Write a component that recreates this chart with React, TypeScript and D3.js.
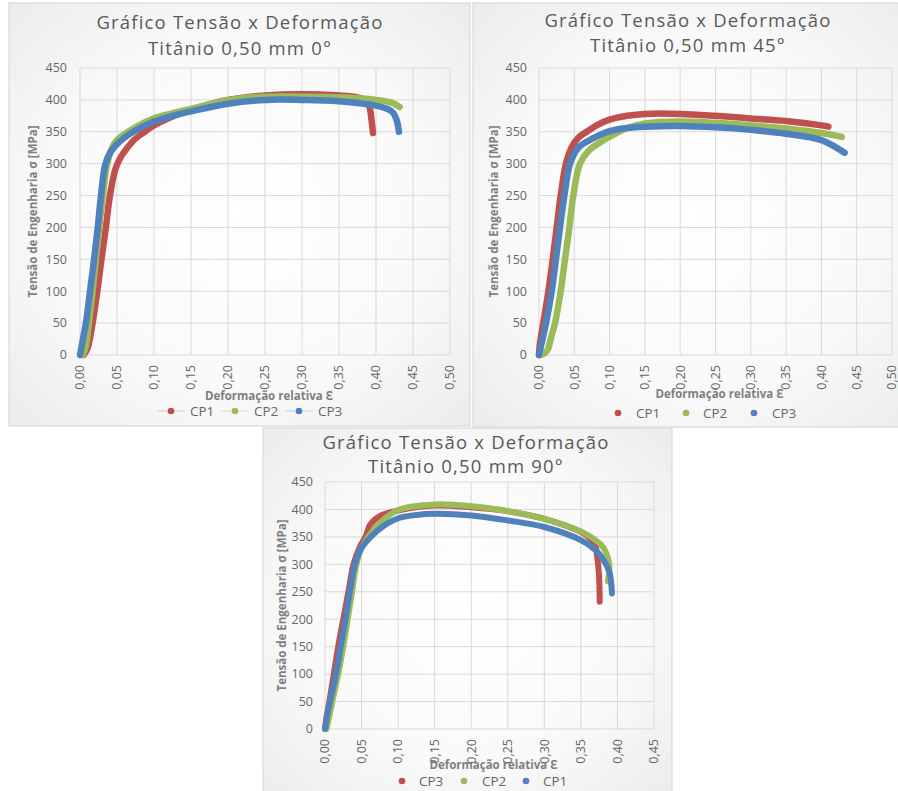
import * as d3 from "d3";

type Pt = [number, number];

// ---- data (strain, stress MPa) ----
const yTicks = [0, 50, 100, 150, 200, 250, 300, 350, 400, 450];
const xTicks050 = [0, 0.05, 0.1, 0.15, 0.2, 0.25, 0.3, 0.35, 0.4, 0.45, 0.5];
const xTicks045 = [0, 0.05, 0.1, 0.15, 0.2, 0.25, 0.3, 0.35, 0.4, 0.45];

const t0CP1: Pt[] = [[0.005,0],[0.01,10],[0.017,50],[0.0234,100],[0.029,150],[0.035,200],[0.0405,250],[0.048,292],[0.055,310],[0.062,322],[0.072,336],[0.085,348],[0.1,360],[0.125,374],[0.15,385],[0.175,393],[0.2,400],[0.25,407],[0.3,409],[0.35,407],[0.375,404],[0.388,398],[0.392,385],[0.394,368],[0.396,348]];
const t0CP2: Pt[] = [[0.004,0],[0.008,15],[0.012,50],[0.017,100],[0.0215,150],[0.026,200],[0.031,250],[0.036,295],[0.043,324],[0.05,337],[0.075,357],[0.1,371],[0.125,379],[0.15,386],[0.175,393],[0.2,400],[0.25,405],[0.3,405],[0.35,404],[0.4,400],[0.42,396],[0.432,389]];
const t0CP3: Pt[] = [[0,0],[0.004,25],[0.008,50],[0.0135,100],[0.019,150],[0.024,200],[0.0284,250],[0.034,298],[0.041,318],[0.054,335],[0.075,352],[0.1,366],[0.125,375],[0.15,382],[0.2,394],[0.25,400],[0.3,400],[0.35,398],[0.4,391],[0.415,386],[0.423,380],[0.428,368],[0.431,350]];

const t45CP1: Pt[] = [[0,0],[0.001,15],[0.003,30],[0.006,50],[0.0133,100],[0.0194,150],[0.025,200],[0.0307,250],[0.0382,300],[0.046,325],[0.055,340],[0.0675,350],[0.085,362],[0.1,369],[0.125,375],[0.15,378],[0.2,378],[0.25,375],[0.3,371],[0.35,367],[0.4,360],[0.41,358]];
const t45CP2: Pt[] = [[0.002,0],[0.008,3],[0.013,10],[0.0165,25],[0.0227,50],[0.0307,100],[0.0368,150],[0.043,200],[0.0486,250],[0.058,300],[0.07,320],[0.089,335],[0.1,342],[0.125,356],[0.15,363],[0.2,366],[0.25,364],[0.3,360],[0.35,355],[0.4,348],[0.429,342]];
const t45CP3: Pt[] = [[0,0],[0.005,25],[0.01,50],[0.018,100],[0.024,150],[0.0297,200],[0.036,250],[0.044,300],[0.0557,325],[0.077,340],[0.1,351],[0.125,356],[0.15,358],[0.2,359],[0.25,357],[0.3,353],[0.35,347],[0.4,337],[0.42,326],[0.433,317]];

const t90CP3: Pt[] = [[0,0],[0.002,20],[0.006,50],[0.012,100],[0.018,150],[0.025,200],[0.032,250],[0.039,300],[0.047,330],[0.056,352],[0.0615,372],[0.075,388],[0.1,398],[0.15,407],[0.2,404],[0.25,397],[0.3,383],[0.35,359],[0.36,350],[0.369,338],[0.372,317],[0.3748,280],[0.3757,232]];
const t90CP2: Pt[] = [[0.002,0],[0.006,25],[0.01,50],[0.018,100],[0.025,150],[0.031,200],[0.037,250],[0.043,300],[0.05,330],[0.059,350],[0.068,365],[0.08,381],[0.1,399],[0.15,409],[0.2,406],[0.25,397],[0.3,383],[0.35,360],[0.37,344],[0.38,332],[0.385,319],[0.389,298],[0.387,269]];
const t90CP1: Pt[] = [[0,0],[0.003,25],[0.0068,50],[0.015,100],[0.0214,150],[0.028,200],[0.034,250],[0.041,300],[0.05,330],[0.064,352],[0.08,370],[0.1,384],[0.125,390],[0.15,392],[0.2,389],[0.25,380],[0.3,368],[0.35,344],[0.369,327],[0.38,310],[0.389,286],[0.3925,247]];

const RED = "#c0504d";
const GREEN = "#9bbb59";
const BLUE = "#4f81bd";
const FONT = "'Open Sans', 'Noto Sans', sans-serif";
const fmtX = (v: number) => d3.format(".2f")(v).replace(".", ",");

type Series = { name: string; color: string; data: Pt[] };
type Cfg = {
  id: string;
  frame: [number, number, number, number];
  plot: { left: number; right: number; top: number; bottom: number };
  xMax: number;
  xTicks: number[];
  title2: string;
  titleX: number;
  titleY: [number, number];
  yTitleX: number;
  xTitleY: number;
  tickRight: number;
  legendY: number;
  legend: [number, number][];
  legendLines: boolean;
  lineWidth: number;
  series: Series[];
};

function Panel({ cfg }: { cfg: Cfg }) {
  const { plot } = cfg;
  const x = d3.scaleLinear().domain([0, cfg.xMax]).range([plot.left, plot.right]);
  const y = d3.scaleLinear().domain([0, 450]).range([plot.bottom, plot.top]);
  const line = d3
    .line<Pt>()
    .x((d) => x(d[0]))
    .y((d) => y(d[1]))
    .curve(d3.curveCatmullRom.alpha(0.5));
  const [fx, fy, fw, fh] = cfg.frame;
  const titleStyle = { fontSize: 18.5, fill: "#595959", fontFamily: FONT, letterSpacing: 1.2 };
  return (
    <g>
      <rect x={fx} y={fy} width={fw} height={fh} fill={`url(#bg-${cfg.id})`} stroke="#d9d9d9" strokeWidth={1.2} />
      <text x={cfg.titleX} y={cfg.titleY[0]} textAnchor="middle" style={titleStyle}>
        Gráfico Tensão x Deformação
      </text>
      <text x={cfg.titleX} y={cfg.titleY[1]} textAnchor="middle" style={titleStyle}>
        {cfg.title2}
      </text>
      {yTicks.map((t) => (
        <g key={"y" + t}>
          <line x1={plot.left} x2={plot.right} y1={y(t)} y2={y(t)} stroke="#d9d9d9" strokeWidth={1} />
          <text x={cfg.tickRight} y={y(t)} dy="0.35em" textAnchor="end" fontSize={12.5} fill="#666" fontFamily={FONT}>
            {t}
          </text>
        </g>
      ))}
      {cfg.xTicks.map((t) => (
        <g key={"x" + t}>
          <line x1={x(t)} x2={x(t)} y1={plot.top} y2={plot.bottom} stroke="#d9d9d9" strokeWidth={1} />
          <text
            transform={`translate(${x(t)},${plot.bottom + 10}) rotate(-90)`}
            dy="0.35em"
            textAnchor="end"
            fontSize={12.5}
            fill="#666"
            fontFamily={FONT}
          >
            {fmtX(t)}
          </text>
        </g>
      ))}
      <text
        transform={`translate(${cfg.yTitleX},${(plot.top + plot.bottom) / 2}) rotate(-90)`}
        dy="0.35em"
        textAnchor="middle"
        fontSize={11.5}
        fontWeight="bold"
        fill="#7f7f7f"
        fontFamily={FONT}
      >
        Tensão de Engenharia σ [MPa]
      </text>
      <text x={(plot.left + plot.right) / 2 + 4} y={cfg.xTitleY} textAnchor="middle" fontSize={11.5} fontWeight="bold" fill="#7f7f7f" fontFamily={FONT}>
        Deformação relativa Ɛ
      </text>
      {cfg.series.map((s) => (
        <path key={s.name} d={line(s.data) ?? ""} fill="none" stroke={s.color} strokeWidth={cfg.lineWidth} strokeLinecap="round" strokeLinejoin="round" />
      ))}
      {cfg.series.map((s, i) => {
        const [mx, tx] = cfg.legend[i];
        return (
          <g key={"lg" + s.name}>
            {cfg.legendLines && (
              <line x1={mx - 14} x2={mx + 14} y1={cfg.legendY} y2={cfg.legendY} stroke={s.color} strokeOpacity={0.3} strokeWidth={1} />
            )}
            <circle cx={mx} cy={cfg.legendY} r={3.3} fill={s.color} />
            <text x={tx} y={cfg.legendY} dy="0.35em" fontSize={13.5} fill="#666" fontFamily={FONT}>
              {s.name}
            </text>
          </g>
        );
      })}
    </g>
  );
}

const cp = (name: string, color: string, data: Pt[]): Series => ({ name, color, data });

const panels: Cfg[] = [
  {
    id: "a",
    frame: [9, 3, 461, 423],
    plot: { left: 80, right: 450, top: 68, bottom: 355 },
    xMax: 0.5,
    xTicks: xTicks050,
    title2: "Titânio 0,50 mm 0°",
    titleX: 240,
    titleY: [29, 55],
    yTitleX: 33,
    xTitleY: 400,
    tickRight: 67,
    legendY: 411,
    legend: [[171, 190], [235, 254], [299, 318]],
    legendLines: true,
    lineWidth: 6.5,
    series: [cp("CP1", RED, t0CP1), cp("CP2", GREEN, t0CP2), cp("CP3", BLUE, t0CP3)],
  },
  {
    id: "b",
    frame: [473, 3, 440, 424],
    plot: { left: 539, right: 892, top: 68, bottom: 355 },
    xMax: 0.5,
    xTicks: xTicks050,
    title2: "Titânio 0,50 mm 45°",
    titleX: 688,
    titleY: [27, 52],
    yTitleX: 494,
    xTitleY: 398,
    tickRight: 527,
    legendY: 413,
    legend: [[618, 636], [686, 703], [754, 772]],
    legendLines: false,
    lineWidth: 6.5,
    series: [cp("CP1", RED, t45CP1), cp("CP2", GREEN, t45CP2), cp("CP3", BLUE, t45CP3)],
  },
  {
    id: "c",
    frame: [263, 428, 409, 370],
    plot: { left: 325, right: 654, top: 482, bottom: 729 },
    xMax: 0.45,
    xTicks: xTicks045,
    title2: "Titânio 0,50 mm 90°",
    titleX: 466,
    titleY: [449, 473],
    yTitleX: 282,
    xTitleY: 769,
    tickRight: 313,
    legendY: 781,
    legend: [[402, 419], [464, 482], [526, 543]],
    legendLines: false,
    lineWidth: 6,
    series: [cp("CP3", RED, t90CP3), cp("CP2", GREEN, t90CP2), cp("CP1", BLUE, t90CP1)],
  },
];

export default function App() {
  return (
    <svg width={898} height={791} style={{ position: "absolute", left: 0, top: 0, background: "#fff" }}>
      <defs>
        {panels.map((p) => (
          <radialGradient key={p.id} id={`bg-${p.id}`} cx="50%" cy="50%" r="70%">
            <stop offset="0%" stopColor="#ffffff" />
            <stop offset="60%" stopColor="#f9f9f9" />
            <stop offset="100%" stopColor="#ececec" />
          </radialGradient>
        ))}
      </defs>
      {panels.map((p) => (
        <Panel key={p.id} cfg={p} />
      ))}
    </svg>
  );
}
